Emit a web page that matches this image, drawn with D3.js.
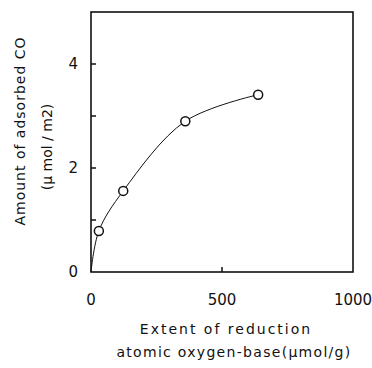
<!DOCTYPE html>
<html>
<head>
<meta charset="utf-8">
<script src="https://cdn.jsdelivr.net/npm/d3@7"></script>
<style>
  body { margin: 0; background: #fff; }
  text { font-family: "DejaVu Sans", sans-serif; fill: #111; }
</style>
</head>
<body>
<svg id="chart"></svg>
<script>
// data
const reduction = [30, 123, 360, 638]        // umol/g
const adsorbedCO = [0.79, 1.56, 2.90, 3.41]  // umol/m2
const xTicks = [0, 500, 1000]
const yTicks = [0, 2, 4]
const yMinor = [1, 3]

const W = 372, H = 368
const svg = d3.select('#chart').attr('width', W).attr('height', H)

const x = d3.scaleLinear().domain([0, 1000]).range([91, 353])
const y = d3.scaleLinear().domain([0, 5]).range([272, 12])

// frame
svg.append('rect')
  .attr('x', x(0)).attr('y', y(5))
  .attr('width', x(1000) - x(0)).attr('height', y(0) - y(5))
  .attr('fill', 'none').attr('stroke', '#111').attr('stroke-width', 1.6)

// inward ticks
svg.selectAll('line.yt').data(yTicks.concat(yMinor).filter(d => d > 0)).enter()
  .append('line')
  .attr('x1', x(0)).attr('x2', x(0) + 5)
  .attr('y1', d => y(d)).attr('y2', d => y(d))
  .attr('stroke', '#111').attr('stroke-width', 1.5)

svg.selectAll('line.xt').data([500]).enter()
  .append('line')
  .attr('x1', d => x(d)).attr('x2', d => x(d))
  .attr('y1', y(0)).attr('y2', y(0) - 5)
  .attr('stroke', '#111').attr('stroke-width', 1.5)

// tick labels
svg.selectAll('text.yl').data(yTicks).enter()
  .append('text')
  .attr('x', 78).attr('y', d => y(d) + 5)
  .attr('text-anchor', 'end')
  .style('font-size', '15px')
  .text(d => d)

svg.selectAll('text.xl').data(xTicks).enter()
  .append('text')
  .attr('x', d => x(d)).attr('y', 305)
  .attr('text-anchor', 'middle')
  .style('font-size', '15px')
  .text(d => d)

// axis titles
svg.append('text')
  .attr('x', 226).attr('y', 334)
  .attr('text-anchor', 'middle')
  .style('font-size', '14px').style('letter-spacing', '2px')
  .text('Extent of reduction')

svg.append('text')
  .attr('x', 234).attr('y', 357)
  .attr('text-anchor', 'middle')
  .style('font-size', '14px').style('letter-spacing', '1.3px')
  .text('atomic oxygen-base(μmol/g)')

svg.append('text')
  .attr('transform', 'translate(25,131) rotate(-90)')
  .attr('text-anchor', 'middle')
  .style('font-size', '14px').style('letter-spacing', '1px')
  .text('Amount of adsorbed CO')

svg.append('text')
  .attr('transform', 'translate(52,147) rotate(-90)')
  .attr('text-anchor', 'middle')
  .style('font-size', '14px')
  .text('(μ mol / m2)')

// fitted curve from origin through the points
const pts = [[0, 0]].concat(reduction.map((d, i) => [d, adsorbedCO[i]]))
const line = d3.line()
  .x(d => x(d[0])).y(d => y(d[1]))
  .curve(d3.curveCatmullRom.alpha(0.5))

svg.append('path')
  .attr('d', line(pts))
  .attr('fill', 'none').attr('stroke', '#111').attr('stroke-width', 1)

svg.selectAll('circle').data(reduction).enter()
  .append('circle')
  .attr('cx', d => x(d)).attr('cy', (d, i) => y(adsorbedCO[i]))
  .attr('r', 4.5)
  .attr('fill', '#fff').attr('stroke', '#111').attr('stroke-width', 1.5)
</script>
</body>
</html>
